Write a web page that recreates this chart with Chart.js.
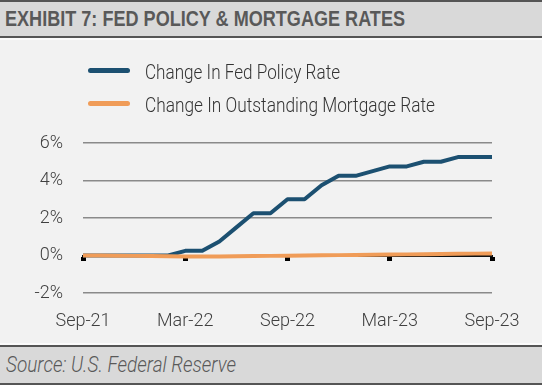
<!DOCTYPE html>
<html><head><meta charset="utf-8">
<script src="https://cdn.jsdelivr.net/npm/chart.js@4.4.0/dist/chart.umd.min.js"></script>
<style>
html,body{margin:0;padding:0;width:542px;height:385px;overflow:hidden;background:#f2f2f2;}
#wrap{position:relative;width:542px;height:385px;}
#c{position:absolute;left:0;top:0;}
.bar{position:absolute;left:0;width:542px;background:#d9d9d9;box-sizing:border-box;border-top:2px solid #555;border-bottom:2px solid #555;}
#titlebar{top:0;height:38px;}
#srcbar{top:345px;height:40px;}
.wl{position:absolute;left:0;width:542px;height:2px;background:#fbfbfb;}
.fit{position:absolute;white-space:nowrap;transform-origin:0 0;}
#title{left:5px;top:8px;font:bold 22px/22px "Liberation Sans Narrow","Liberation Sans",Arial,sans-serif;color:#595959;}
#source{left:6px;top:354px;font:italic 300 22px/22px Roboto,"Liberation Sans",sans-serif;color:#595959;}
.lg{left:145px;font:300 19.5px/19.5px Roboto,"Liberation Sans",sans-serif;color:#333;}
.sw{position:absolute;left:88px;width:42px;height:5px;border-radius:3px;}
</style></head>
<body>
<div id="wrap">
  <canvas id="c" width="542" height="385"></canvas>
  <div class="bar" id="titlebar"></div>
  <div class="wl" style="top:38px"></div>
  <div class="wl" style="top:343px"></div>
  <div class="bar" id="srcbar"></div>
  <div class="fit" id="title" data-w="400">EXHIBIT 7: FED POLICY &amp; MORTGAGE RATES</div>
  <div class="fit" id="source" data-w="230">Source: U.S. Federal Reserve</div>
  <div class="sw" id="sw0" style="top:68px"></div>
  <div class="sw" id="sw1" style="top:101px"></div>
  <div class="fit lg" id="lg0" style="top:62.6px" data-w="195"></div>
  <div class="fit lg" id="lg1" style="top:96.3px" data-w="290"></div>
</div>
<script>
const months = ['Sep-21','Oct-21','Nov-21','Dec-21','Jan-22','Feb-22','Mar-22','Apr-22','May-22','Jun-22','Jul-22','Aug-22','Sep-22','Oct-22','Nov-22','Dec-22','Jan-23','Feb-23','Mar-23','Apr-23','May-23','Jun-23','Jul-23','Aug-23','Sep-23'];
const fedPolicyChange = [0,0,0,0,0,0,0.25,0.25,0.75,1.5,2.25,2.25,3.0,3.0,3.75,4.25,4.25,4.5,4.75,4.75,5.0,5.0,5.25,5.25,5.25];
const mortgageChange = [0,0,-0.01,-0.02,-0.03,-0.04,-0.05,-0.05,-0.05,-0.04,-0.03,-0.02,-0.01,0,0.01,0.02,0.03,0.04,0.05,0.06,0.07,0.08,0.09,0.10,0.11];
const xTickLabels = ['Sep-21','Mar-22','Sep-22','Mar-23','Sep-23'];
const yTicks = [-2,0,2,4,6];
const seriesNames = ['Change In Fed Policy Rate','Change In Outstanding Mortgage Rate'];
const seriesColors = ['#1c5071','#f09c58'];

document.getElementById('lg0').textContent = seriesNames[0];
document.getElementById('lg1').textContent = seriesNames[1];
document.getElementById('sw0').style.background = seriesColors[0];
document.getElementById('sw1').style.background = seriesColors[1];

function fitAll(){
  document.querySelectorAll('.fit').forEach(el=>{
    el.style.transform='none';
    const w = el.getBoundingClientRect().width;
    const t = parseFloat(el.dataset.w);
    if (w>0 && t) el.style.transform = 'scaleX(' + (t/w) + ')';
  });
}

const tickFont = {family: 'Roboto, "Liberation Sans", sans-serif', size: 18, weight: '300'};

function draw(){
  fitAll();
  new Chart(document.getElementById('c'), {
    type: 'line',
    data: {
      labels: months,
      datasets: [
        {label: seriesNames[0], data: fedPolicyChange, borderColor: seriesColors[0], backgroundColor: seriesColors[0], borderWidth: 4, pointRadius: 0, tension: 0, borderJoinStyle: 'round', borderCapStyle: 'butt', order: 2, xAxisID: 'x', yAxisID: 'y'},
        {label: seriesNames[1], data: mortgageChange, borderColor: seriesColors[1], backgroundColor: seriesColors[1], borderWidth: 4, pointRadius: 0, tension: 0, borderJoinStyle: 'round', borderCapStyle: 'butt', order: 1, xAxisID: 'x', yAxisID: 'y'}
      ]
    },
    options: {
      responsive: false,
      animation: false,
      devicePixelRatio: 1,
      layout: {padding: {top: 143, left: 0, right: 50, bottom: 52}},
      plugins: {legend: {display: false}, tooltip: {enabled: false}},
      scales: {
        x: {
          type: 'category',
          position: 'bottom',
          offset: false,
          grid: {display: false, drawTicks: false},
          border: {display: false},
          ticks: {
            autoSkip: false, maxRotation: 0, minRotation: 0, padding: 18,
            color: '#404040', font: tickFont,
            callback: function(v, i){ const l = this.getLabelForValue(v); return xTickLabels.includes(l) ? l : ''; }
          },
          afterFit: s => { s.height = 40; s.paddingLeft = 0; s.paddingRight = 0; }
        },
        x0: {
          type: 'category',
          position: {y: 0},
          offset: false,
          grid: {
            display: true, drawOnChartArea: false, drawTicks: true, tickLength: 4, tickWidth: 5,
            tickColor: ctx => xTickLabels.includes(months[ctx.index]) ? '#000' : 'rgba(0,0,0,0)'
          },
          border: {display: true, color: '#111', width: 2},
          ticks: {display: false, autoSkip: false}
        },
        y: {
          position: 'left',
          min: -2, max: 6,
          afterBuildTicks: s => { s.ticks = yTicks.map(v => ({value: v})); },
          grid: {
            drawTicks: false, lineWidth: 1.5,
            color: ctx => (ctx.tick && ctx.tick.value === 0) ? 'rgba(0,0,0,0)' : '#8a8a8a'
          },
          border: {display: false},
          ticks: {padding: 20, color: '#404040', font: tickFont, callback: v => v + '%'},
          afterFit: s => { s.width = 83; }
        }
      }
    }
  });
}
if (document.fonts && document.fonts.ready) { document.fonts.ready.then(draw); } else { draw(); }
</script>
</body></html>
